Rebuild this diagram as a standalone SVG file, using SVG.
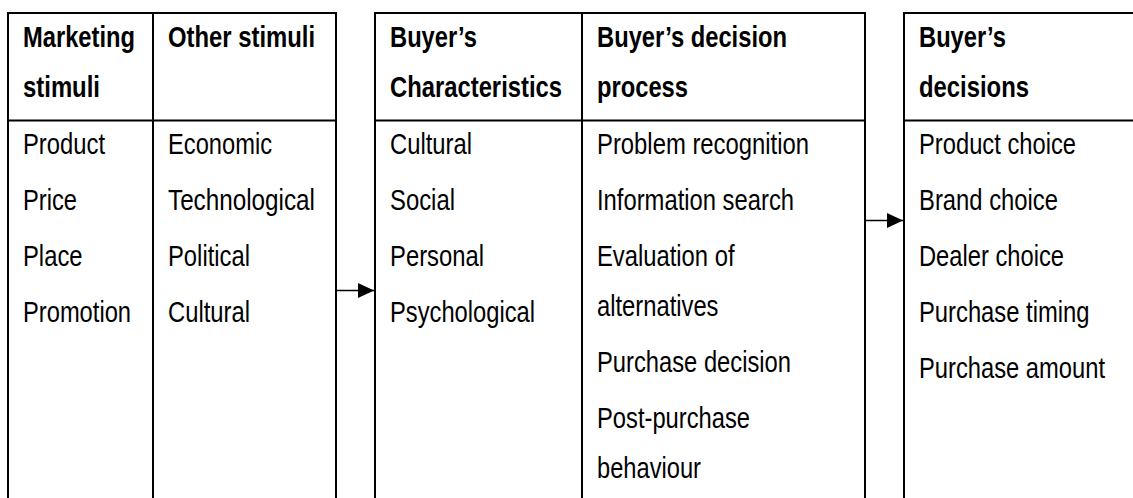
<svg xmlns="http://www.w3.org/2000/svg" width="1133" height="498" viewBox="0 0 1133 498">
  <style>
    .frame { fill: none; stroke: #000; stroke-width: 2; }
    text { font-family: "Liberation Sans Narrow", "Arial Narrow", "Liberation Sans", Arial, sans-serif; font-size: 29px; fill: #000; }
    .hd { font-weight: bold; }
    .conn { stroke: #000; stroke-width: 1.6; fill: none; }
  </style>
  <defs>
    <marker id="arr" markerUnits="userSpaceOnUse" markerWidth="16" markerHeight="16" viewBox="0 0 16 16" refX="16" refY="8" orient="auto">
      <path d="M0,0.5 L16,8 L0,15.5 Z" fill="#000"/>
    </marker>
  </defs>
  <rect width="1133" height="498" fill="#fff"/>

  <g id="stimuli">
    <path class="frame" d="M8,500 V13 H336 V500 M153,13 V500 M8,120.5 H336"/>
    <text class="hd" x="23" y="47" textLength="112" lengthAdjust="spacingAndGlyphs">Marketing</text>
    <text class="hd" x="23" y="97" textLength="77" lengthAdjust="spacingAndGlyphs">stimuli</text>
    <text class="hd" x="168" y="47" textLength="147" lengthAdjust="spacingAndGlyphs">Other stimuli</text>
    <text x="23" y="154" textLength="82" lengthAdjust="spacingAndGlyphs">Product</text>
    <text x="23" y="210" textLength="54" lengthAdjust="spacingAndGlyphs">Price</text>
    <text x="23" y="266" textLength="59.5" lengthAdjust="spacingAndGlyphs">Place</text>
    <text x="23" y="322" textLength="108" lengthAdjust="spacingAndGlyphs">Promotion</text>
    <text x="168" y="154" textLength="104" lengthAdjust="spacingAndGlyphs">Economic</text>
    <text x="168" y="210" textLength="147" lengthAdjust="spacingAndGlyphs">Technological</text>
    <text x="168" y="266" textLength="82" lengthAdjust="spacingAndGlyphs">Political</text>
    <text x="168" y="322" textLength="82" lengthAdjust="spacingAndGlyphs">Cultural</text>
  </g>

  <g id="black-box">
    <path class="frame" d="M375,500 V13 H865 V500 M582,13 V500 M375,120.5 H865"/>
    <text class="hd" x="390" y="47" textLength="87" lengthAdjust="spacingAndGlyphs">Buyer’s</text>
    <text class="hd" x="390" y="97" textLength="172" lengthAdjust="spacingAndGlyphs">Characteristics</text>
    <text class="hd" x="597" y="47" textLength="190" lengthAdjust="spacingAndGlyphs">Buyer’s decision</text>
    <text class="hd" x="597" y="97" textLength="91" lengthAdjust="spacingAndGlyphs">process</text>
    <text x="390" y="154" textLength="82" lengthAdjust="spacingAndGlyphs">Cultural</text>
    <text x="390" y="210" textLength="65" lengthAdjust="spacingAndGlyphs">Social</text>
    <text x="390" y="266" textLength="94" lengthAdjust="spacingAndGlyphs">Personal</text>
    <text x="390" y="322" textLength="145" lengthAdjust="spacingAndGlyphs">Psychological</text>
    <text x="597" y="154" textLength="212" lengthAdjust="spacingAndGlyphs">Problem recognition</text>
    <text x="597" y="210" textLength="197" lengthAdjust="spacingAndGlyphs">Information search</text>
    <text x="597" y="266" textLength="137.5" lengthAdjust="spacingAndGlyphs">Evaluation of</text>
    <text x="597" y="316" textLength="121.5" lengthAdjust="spacingAndGlyphs">alternatives</text>
    <text x="597" y="372" textLength="194" lengthAdjust="spacingAndGlyphs">Purchase decision</text>
    <text x="597" y="428" textLength="153" lengthAdjust="spacingAndGlyphs">Post-purchase</text>
    <text x="597" y="478" textLength="104" lengthAdjust="spacingAndGlyphs">behaviour</text>
  </g>

  <g id="responses">
    <path class="frame" d="M904,500 V13 H1135 M904,120.5 H1135"/>
    <text class="hd" x="919" y="47" textLength="87" lengthAdjust="spacingAndGlyphs">Buyer’s</text>
    <text class="hd" x="919" y="97" textLength="110" lengthAdjust="spacingAndGlyphs">decisions</text>
    <text x="919" y="154" textLength="157" lengthAdjust="spacingAndGlyphs">Product choice</text>
    <text x="919" y="210" textLength="139" lengthAdjust="spacingAndGlyphs">Brand choice</text>
    <text x="919" y="266" textLength="145" lengthAdjust="spacingAndGlyphs">Dealer choice</text>
    <text x="919" y="322" textLength="170.5" lengthAdjust="spacingAndGlyphs">Purchase timing</text>
    <text x="919" y="378" textLength="186" lengthAdjust="spacingAndGlyphs">Purchase amount</text>
  </g>

  <g id="connectors">
    <line class="conn" x1="336" y1="290.5" x2="374" y2="290.5" marker-end="url(#arr)"/>
    <line class="conn" x1="865" y1="220.5" x2="903" y2="220.5" marker-end="url(#arr)"/>
  </g>
</svg>
